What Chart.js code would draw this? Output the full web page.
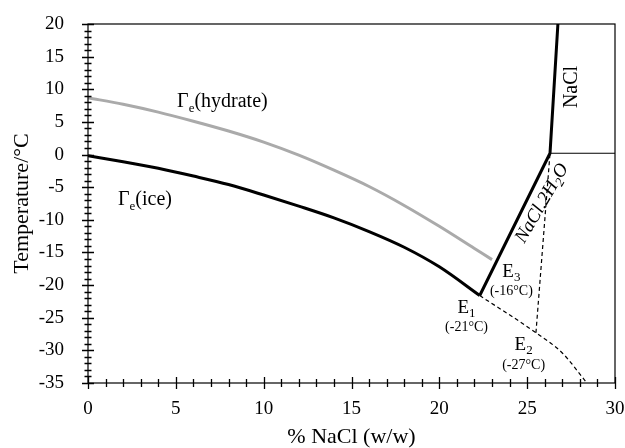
<!DOCTYPE html>
<html>
<head>
<meta charset="utf-8">
<script src="https://cdn.jsdelivr.net/npm/chart.js@4.4.1/dist/chart.umd.min.js"></script>
<style>
  body { margin: 0; background: #fff; }
  #wrap { width: 625px; height: 448px; }
</style>
</head>
<body>
<div id="wrap"><canvas id="phase"></canvas></div>
<script>
// ice liquidus, Γe(ice)
var iceX = [0, 2, 4, 6, 8, 10, 12, 14, 16, 18, 20, 22.3];
var iceT = [-0.2, -1.1, -2.1, -3.3, -4.6, -6.2, -7.9, -9.7, -11.8, -14.2, -17.2, -21.6];

// hydrate equilibrium, Γe(hydrate)
var hydX = [0, 2, 4, 6, 8, 10, 12, 14, 16, 18, 20, 22, 23];
var hydT = [8.7, 7.7, 6.5, 5.1, 3.6, 1.9, -0.1, -2.4, -4.9, -7.8, -11.0, -14.4, -16.1];

// salt solubility: E1 -> peritectic -> NaCl branch
var solX = [22.3, 26.3, 26.75];
var solT = [-21.6, 0.2, 20];

// NaCl / NaCl.2H2O transition
var transX = [26.3, 30];
var transT = [0.2, 0.2];

// metastable extensions through E2
var metaX = [22.3, 25.5, 27.0, 28.4];
var metaT = [-21.6, -27.3, -30.4, -35];
var meta2X = [25.5, 26.3];
var meta2T = [-27.3, 0.2];

var xMin = 0, xMax = 30, xStep = 5;
var yMin = -35, yMax = 20, yStep = 5;

function pts(xs, ys) {
  var out = [];
  for (var i = 0; i < xs.length; i++) out.push({x: xs[i], y: ys[i]});
  return out;
}

var SERIF = "'Liberation Serif', 'Times New Roman', serif";

// text made of pieces: [text, size, baseline shift, italic]
function drawRich(ctx, parts, x, y, align) {
  var w = 0;
  parts.forEach(function (p) {
    ctx.font = (p[3] ? 'italic ' : '') + p[1] + 'px ' + SERIF;
    p.w = ctx.measureText(p[0]).width;
    w += p.w;
  });
  var cx = align === 'center' ? x - w / 2 : x;
  ctx.textAlign = 'left';
  ctx.textBaseline = 'alphabetic';
  parts.forEach(function (p) {
    ctx.font = (p[3] ? 'italic ' : '') + p[1] + 'px ' + SERIF;
    ctx.fillText(p[0], cx, y + p[2]);
    cx += p.w;
  });
}

var decor = {
  id: 'decor',
  afterDraw: function (chart) {
    var ctx = chart.ctx;
    var a = chart.chartArea;
    var xs = chart.scales.x, ys = chart.scales.y;
    ctx.save();
    ctx.strokeStyle = '#000';
    ctx.fillStyle = '#000';

    // frame
    ctx.lineWidth = 1.2;
    ctx.strokeRect(a.left, a.top, a.right - a.left, a.bottom - a.top);

    // tick marks crossing the left and bottom axes
    ctx.lineWidth = 1.3;
    ctx.beginPath();
    for (var v = yMin; v <= yMax; v++) {
      var py = Math.round(ys.getPixelForValue(v)) + 0.5;
      var h = v % 5 === 0 ? 6 : 3.5;
      ctx.moveTo(a.left - h, py);
      ctx.lineTo(a.left + h, py);
    }
    for (var u = xMin; u <= xMax; u++) {
      var px = Math.round(xs.getPixelForValue(u)) + 0.5;
      var k = u % 5 === 0 ? 6 : 4;
      ctx.moveTo(px, a.bottom - k);
      ctx.lineTo(px, a.bottom + k);
    }
    ctx.stroke();

    function X(v) { return xs.getPixelForValue(v); }
    function Y(v) { return ys.getPixelForValue(v); }

    drawRich(ctx, [['Γ', 20, 0], ['e', 13, 5], ['(hydrate)', 20, 0]], X(5.07), Y(7.3), 'left');
    drawRich(ctx, [['Γ', 20, 0], ['e', 13, 5], ['(ice)', 20, 0]], X(1.71), Y(-7.7), 'left');

    drawRich(ctx, [['E', 19, 0], ['3', 13, 4]], X(24.1), Y(-18.8), 'center');
    drawRich(ctx, [['(-16°C)', 14, 0]], X(24.1), Y(-21.5), 'center');
    drawRich(ctx, [['E', 19, 0], ['1', 13, 4]], X(21.55), Y(-24.3), 'center');
    drawRich(ctx, [['(-21°C)', 14, 0]], X(21.55), Y(-27.1), 'center');
    drawRich(ctx, [['E', 19, 0], ['2', 13, 4]], X(24.8), Y(-30.0), 'center');
    drawRich(ctx, [['(-27°C)', 14, 0]], X(24.8), Y(-32.9), 'center');

    // region names, rotated
    ctx.save();
    ctx.translate(X(27.55), Y(10.35));
    ctx.rotate(-Math.PI / 2);
    ctx.font = '20px ' + SERIF;
    ctx.textAlign = 'center';
    ctx.textBaseline = 'middle';
    ctx.fillText('NaCl', 0, 0);
    ctx.restore();

    ctx.save();
    ctx.translate(X(25.8), Y(-7.4));
    ctx.rotate(-Math.PI / 3);
    ctx.translate(0, 6);
    drawRich(ctx, [['NaCl.2H', 19, 0, true], ['2', 13, 4, true], ['O', 19, 0, true]], 0, 0, 'center');
    ctx.restore();

    ctx.restore();
  }
};

function line(data, color, width, dash, curved) {
  return {
    data: data,
    showLine: true,
    borderColor: color,
    borderWidth: width,
    borderDash: dash || [],
    pointRadius: 0,
    cubicInterpolationMode: curved ? 'monotone' : 'default',
    tension: 0,
    fill: false
  };
}

new Chart(document.getElementById('phase'), {
  type: 'scatter',
  data: {
    datasets: [
      line(pts(metaX, metaT), '#000', 1.2, [4, 3], true),
      line(pts(meta2X, meta2T), '#000', 1.2, [4, 3], false),
      line(pts(transX, transT), '#000', 1.2, null, false),
      line(pts(hydX, hydT), '#aaaaaa', 3, null, true),
      line(pts(iceX, iceT), '#000', 3, null, true),
      line(pts(solX, solT), '#000', 3, null, false)
    ]
  },
  options: {
    responsive: true,
    maintainAspectRatio: false,
    animation: false,
    events: [],
    layout: { padding: { top: 24, right: 10, left: 0, bottom: 0 } },
    plugins: { legend: { display: false }, tooltip: { enabled: false } },
    scales: {
      x: {
        type: 'linear',
        min: xMin, max: xMax,
        afterFit: function (s) { s.height = 65; s.paddingLeft = 0; s.paddingRight = 0; },
        grid: { display: false },
        border: { display: false },
        ticks: { stepSize: xStep, color: '#000', padding: 7, font: { family: SERIF, size: 19 } },
        title: { display: true, text: '% NaCl (w/w)', color: '#000', padding: { top: 0, bottom: 0 },
                 font: { family: SERIF, size: 22, lineHeight: 1 } }
      },
      y: {
        type: 'linear',
        min: yMin, max: yMax,
        afterFit: function (s) { s.width = 88; s.paddingTop = 0; s.paddingBottom = 0; },
        grid: { display: false },
        border: { display: false },
        ticks: { stepSize: yStep, color: '#000', padding: 16, font: { family: SERIF, size: 19 } },
        title: { display: true, text: 'Temperature/°C', color: '#000', padding: { top: 11, bottom: 0 },
                 font: { family: SERIF, size: 22, lineHeight: 1 } }
      }
    }
  },
  plugins: [decor]
});
</script>
</body>
</html>
